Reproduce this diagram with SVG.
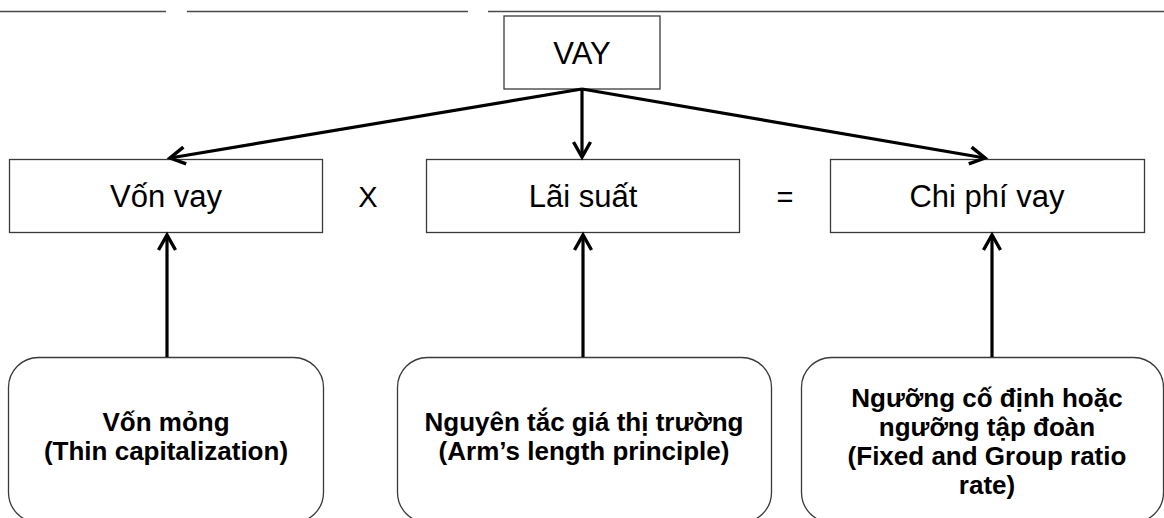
<svg xmlns="http://www.w3.org/2000/svg" width="1164" height="518" viewBox="0 0 1164 518">
  <defs>
    <!-- open chevron arrowhead, fixed size in user units -->
    <marker id="arrow" markerUnits="userSpaceOnUse" viewBox="-20 -12 24 24" refX="0" refY="0" markerWidth="24" markerHeight="24" orient="auto">
      <path d="M-15,-8.5 L0,0 L-15,8.5" fill="none" stroke="#000" stroke-width="3.4" stroke-linejoin="miter"/>
    </marker>
  </defs>
  <style>
    .box { fill: #fff; stroke: #3a3a3a; stroke-width: 1.3; }
    .rbox { fill: #fff; stroke: #3a3a3a; stroke-width: 1.3; }
    .lbl { font-family: "Liberation Sans", Arial, sans-serif; font-size: 31px; fill: #000; text-anchor: middle; }
    .op { font-family: "Liberation Sans", Arial, sans-serif; font-size: 29px; fill: #000; text-anchor: middle; }
    .bold { font-family: "Liberation Sans", Arial, sans-serif; font-size: 26px; font-weight: bold; fill: #000; text-anchor: middle; }
    .conn { stroke: #000; stroke-width: 3.2; fill: none; marker-end: url(#arrow); }
    .rule { stroke: #4a4a4a; stroke-width: 1.5; }
  </style>

  <rect width="1164" height="518" fill="#fff"/>

  <!-- header rule -->
  <g id="header-rule">
    <line class="rule" x1="0" y1="11.5" x2="166" y2="11.5"/>
    <line class="rule" x1="187" y1="11.5" x2="468" y2="11.5"/>
    <line class="rule" x1="488" y1="11.5" x2="1164" y2="11.5"/>
  </g>

  <!-- top node -->
  <g id="node-vay">
    <rect class="box" x="504" y="16" width="156" height="73"/>
    <text class="lbl" x="582" y="64" font-size="30">VAY</text>
  </g>

  <!-- middle row -->
  <g id="node-von-vay">
    <rect class="box" x="9.5" y="159.5" width="313" height="73"/>
    <text class="lbl" x="166" y="207">Vốn vay</text>
  </g>
  <g id="op-times">
    <text class="op" x="368" y="207">X</text>
  </g>
  <g id="node-lai-suat">
    <rect class="box" x="426.5" y="159.5" width="313" height="73"/>
    <text class="lbl" x="583" y="207">Lãi suất</text>
  </g>
  <g id="op-equals">
    <text class="op" x="785" y="207">=</text>
  </g>
  <g id="node-chi-phi-vay">
    <rect class="box" x="830.5" y="159.5" width="314" height="73"/>
    <text class="lbl" x="987" y="207">Chi phí vay</text>
  </g>

  <!-- bottom row -->
  <g id="node-von-mong">
    <rect class="rbox" x="8.5" y="357.5" width="315" height="165" rx="30" ry="30"/>
    <text class="bold" x="166" y="431">Vốn mỏng</text>
    <text class="bold" x="166" y="460">(Thin capitalization)</text>
  </g>
  <g id="node-arms-length">
    <rect class="rbox" x="397.5" y="357.5" width="374" height="165" rx="30" ry="30"/>
    <text class="bold" x="584" y="431">Nguyên tắc giá thị trường</text>
    <text class="bold" x="584" y="460">(Arm’s length principle)</text>
  </g>
  <g id="node-ratio">
    <rect class="rbox" x="801.5" y="357.5" width="362" height="165" rx="30" ry="30"/>
    <text class="bold" x="987" y="407">Ngưỡng cố định hoặc</text>
    <text class="bold" x="987" y="436">ngưỡng tập đoàn</text>
    <text class="bold" x="987" y="465">(Fixed and Group ratio</text>
    <text class="bold" x="987" y="494">rate)</text>
  </g>

  <!-- connectors -->
  <g id="connectors">
    <line class="conn" x1="582" y1="89" x2="170" y2="158"/>
    <line class="conn" x1="582" y1="89" x2="582" y2="157"/>
    <line class="conn" x1="582" y1="89" x2="985" y2="158"/>
    <line class="conn" x1="167" y1="357" x2="167" y2="235"/>
    <line class="conn" x1="583" y1="357" x2="583" y2="235"/>
    <line class="conn" x1="992" y1="357" x2="992" y2="235"/>
  </g>
</svg>
